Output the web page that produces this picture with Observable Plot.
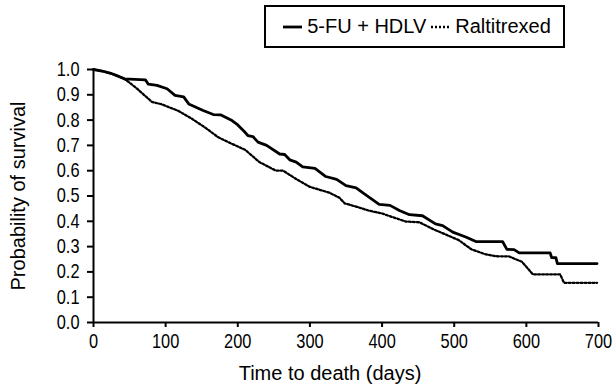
<!DOCTYPE html>
<html><head><meta charset="utf-8">
<script src="https://cdn.jsdelivr.net/npm/d3@7"></script>
<script src="https://cdn.jsdelivr.net/npm/@observablehq/plot@0.6"></script>
<style>
body{margin:0;background:#fff;}
#wrap{position:relative;width:613px;height:389px;font-family:"Liberation Sans",Arial,sans-serif;}
#legend{position:absolute;left:264px;top:5px;width:297px;height:39px;border:2px solid #000;display:flex;align-items:center;justify-content:center;font-size:20px;color:#000;background:#fff;white-space:nowrap;}
#legend svg{margin:0 5px 0 5px;}
</style></head>
<body><div id="wrap"><div id="legend"></div></div>
<script>
// Series names
const seriesNames = ["5-FU + HDLV", "Raltitrexed"];

// 5-FU + HDLV (solid)
const daysFU = [0,12,24,33,43,72,76,88,102,113,125,132,152,166,176,192,200,209,214,221,228,240,258,265,272,281,290,307,322,337,350,364,374,396,411,424,438,456,474,484,498,516,530,567,573,583,590,633,635,641,643,698];
const survFU = [1.0,0.994,0.985,0.975,0.963,0.959,0.942,0.937,0.924,0.898,0.892,0.864,0.838,0.822,0.821,0.798,0.781,0.755,0.739,0.735,0.713,0.700,0.666,0.664,0.643,0.634,0.615,0.609,0.577,0.566,0.541,0.532,0.511,0.467,0.463,0.443,0.426,0.422,0.390,0.383,0.357,0.338,0.320,0.320,0.289,0.288,0.275,0.275,0.257,0.256,0.233,0.233];

// Raltitrexed (dotted)
const daysRal = [0,12,24,33,43,58,81,95,118,136,155,173,192,210,230,253,263,281,300,327,341,348,364,382,400,415,433,452,470,488,506,524,543,557,576,594,603,609,647,652,698];
const survRal = [1.0,0.994,0.985,0.975,0.963,0.93,0.872,0.862,0.836,0.806,0.770,0.732,0.706,0.683,0.634,0.600,0.600,0.567,0.536,0.513,0.493,0.471,0.458,0.442,0.431,0.416,0.399,0.396,0.370,0.348,0.326,0.289,0.270,0.262,0.261,0.240,0.210,0.190,0.190,0.157,0.157];

// Tick values
const xTicks = [0,100,200,300,400,500,600,700];
const yTicks = [0,0.1,0.2,0.3,0.4,0.5,0.6,0.7,0.8,0.9,1.0];

const xLabel = "Time to death (days)";
const yLabel = "Probability of survival";

const rowsFU = daysFU.map((d,i)=>({day:d, surv:survFU[i]}));
const rowsRal = daysRal.map((d,i)=>({day:d, surv:survRal[i]}));

const FONT = "'Liberation Sans', Arial, sans-serif";
const FS = 20;
const DOTS = "2,2";

const plot = Plot.plot({
  width: 613, height: 389,
  marginLeft: 93, marginRight: 15, marginTop: 69, marginBottom: 67,
  style: {fontFamily: FONT, fontSize: FS + "px", color: "#000", background: "transparent", overflow: "visible"},
  x: {domain: [0, 700]},
  y: {domain: [0, 1]},
  marks: [
    Plot.axisX({ticks: xTicks, tickSize: 5, tickPadding: 6, tickFormat: d => String(d), label: null, strokeWidth: 2, fontSize: FS}),
    Plot.axisY({ticks: yTicks, tickSize: 6, tickPadding: 8, tickFormat: d3.format(".1f"), label: null, strokeWidth: 2, fontSize: FS}),
    Plot.ruleY([0], {strokeWidth: 2}),
    Plot.ruleX([0], {strokeWidth: 2}),
    Plot.line(rowsRal, {x: "day", y: "surv", stroke: "#000", strokeWidth: 2.3, strokeDasharray: DOTS}),
    Plot.line(rowsFU, {x: "day", y: "surv", stroke: "#000", strokeWidth: 2.8}),
    Plot.text([xLabel], {frameAnchor: "bottom", dx: -16, dy: 57, fontSize: FS, fill: "#000"}),
    Plot.text([yLabel], {frameAnchor: "left", textAnchor: "middle", dx: -75, rotate: -90, fontSize: FS, fill: "#000"})
  ]
});
document.getElementById("wrap").appendChild(plot);

// Narrow the tick labels like the reference's condensed digits
plot.querySelectorAll('g[aria-label="x-axis tick label"] text, g[aria-label="y-axis tick label"] text').forEach(t => {
  const tr = t.getAttribute("transform");
  if (tr) t.setAttribute("transform", tr + " scale(0.82,1)");
  else {
    const x = +t.getAttribute("x") || 0, y = +t.getAttribute("y") || 0;
    t.removeAttribute("x"); t.removeAttribute("y");
    t.setAttribute("transform", `translate(${x},${y}) scale(0.82,1)`);
  }
});

// Legend
const legend = document.getElementById("legend");
function swatch(dash, w) {
  const ns = "http://www.w3.org/2000/svg";
  const s = document.createElementNS(ns, "svg");
  s.setAttribute("width", 19); s.setAttribute("height", 6);
  const l = document.createElementNS(ns, "line");
  l.setAttribute("x1", 0); l.setAttribute("x2", 19); l.setAttribute("y1", 3); l.setAttribute("y2", 3);
  l.setAttribute("stroke", "#000"); l.setAttribute("stroke-width", w);
  if (dash) l.setAttribute("stroke-dasharray", dash);
  s.appendChild(l);
  return s;
}
[[null, 2.8], [DOTS, 2.3]].forEach(([dash, w], i) => {
  legend.appendChild(swatch(dash, w));
  const t = document.createElement("span");
  t.textContent = seriesNames[i];
  legend.appendChild(t);
});
</script>
</body></html>
